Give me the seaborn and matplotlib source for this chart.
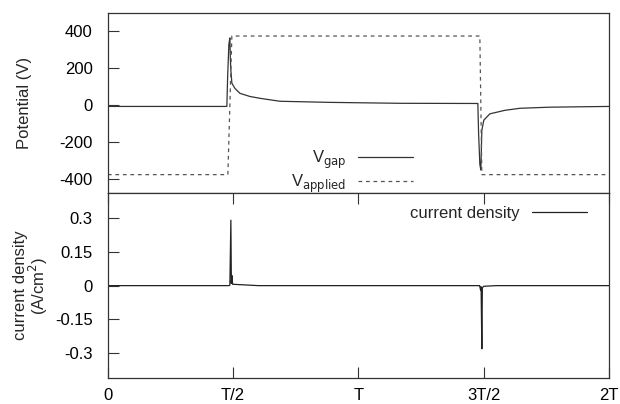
import matplotlib
matplotlib.use("Agg")
import matplotlib.pyplot as plt
import matplotlib.ticker as mticker
import pandas as pd
import seaborn as sns

# time in units of the period T
t_applied = [0.0, 0.479, 0.495, 1.485, 1.493, 2.0]
v_applied = [-375, -375, 375, 375, -375, -375]

t_gap = [0.0, 0.475, 0.478, 0.483, 0.487, 0.489, 0.491, 0.495, 0.507, 0.527,
         0.567, 0.607, 0.687, 0.886, 1.166, 1.477, 1.480, 1.485, 1.489, 1.493,
         1.501, 1.525, 1.585, 1.645, 1.764, 2.0]
v_gap = [-6, -6, 150, 330, 365, 250, 190, 120, 92, 65,
         48, 38, 22, 16, 11, 10, -150, -320, -350, -135,
         -80, -46, -27, -16, -10, -6]

t_cur = [0.0, 0.483, 0.487, 0.491, 0.493, 0.495, 0.498, 0.55, 0.6,
         1.484, 1.488, 1.490, 1.493, 1.495, 1.5, 1.55, 2.0]
j_cur = [0.0, 0.0, 0.002, 0.29, 0.01, 0.045, 0.006, 0.003, 0.0,
         0.0, -0.02, -0.005, -0.28, -0.01, -0.003, 0.0, 0.0]

x_ticks = [0, 0.5, 1, 1.5, 2]
x_labels = ["0", "T/2", "T", "3T/2", "2T"]
pot_ticks = [-400, -200, 0, 200, 400]
cur_ticks = [-0.3, -0.15, 0, 0.15, 0.3]

df_app = pd.DataFrame({"t": t_applied, "v": v_applied})
df_gap = pd.DataFrame({"t": t_gap, "v": v_gap})
df_cur = pd.DataFrame({"t": t_cur, "j": j_cur})

sns.set_style("ticks")
plt.rcParams["font.family"] = ["Liberation Sans", "DejaVu Sans"]
plt.rcParams["axes.unicode_minus"] = False
fs = 12

fig = plt.figure(figsize=(6.2, 4.04), dpi=100)
ax1 = fig.add_axes([0.174, 0.522, 0.808, 0.446])
ax2 = fig.add_axes([0.174, 0.064, 0.808, 0.458])

sns.lineplot(data=df_gap, x="t", y="v", ax=ax1, color="#333333", lw=0.9,
             label=r"V$_{\rm gap}$", estimator=None, sort=False)
sns.lineplot(data=df_app, x="t", y="v", ax=ax1, color="#555555", lw=0.9,
             label=r"V$_{\rm applied}$", estimator=None, sort=False)
ax1.lines[1].set_dashes([3, 3])

sns.lineplot(data=df_cur, x="t", y="j", ax=ax2, color="#222222", lw=0.9,
             label="current density", estimator=None, sort=False)

for ax in (ax1, ax2):
    ax.set_xlim(0, 2)
    ax.set_xlabel("")
    for s in ax.spines.values():
        s.set_visible(True)
        s.set_linewidth(0.9)
        s.set_color("#333333")
    ax.tick_params(axis="y", direction="in", length=8, width=0.8,
                   labelsize=fs, pad=11, colors="#333333", labelcolor="black")

ax1.set_ylim(-475, 500)
ax1.set_yticks(pot_ticks)
ax1.set_xticks(x_ticks)
ax1.tick_params(axis="x", bottom=False, labelbottom=False)
ax1.set_ylabel("Potential (V)", fontsize=fs)
ax1.yaxis.set_label_coords(-0.152, 0.5)

ax2.set_ylim(-0.41, 0.41)
ax2.set_yticks(cur_ticks)
ax2.yaxis.set_major_formatter(mticker.FuncFormatter(lambda v, p: "%g" % v))
ax2.set_xticks(x_ticks)
ax2.set_xticklabels(x_labels)
ax2.tick_params(axis="x", direction="in", top=True, length=8, width=0.8,
                labelsize=fs, pad=7, colors="#333333", labelcolor="black")
ax2.set_ylabel("current density\n(A/cm$^2$)", fontsize=fs, linespacing=0.95)
ax2.yaxis.set_label_coords(-0.115, 0.5)

ax1.legend(loc="lower right", bbox_to_anchor=(0.622, -0.045), frameon=False,
           markerfirst=False, fontsize=fs, handlelength=3.3,
           handletextpad=0.7, labelspacing=0.1, borderaxespad=0)
ax2.legend(loc="upper right", bbox_to_anchor=(0.969, 0.965), frameon=False,
           markerfirst=False, fontsize=fs, handlelength=3.3,
           handletextpad=0.7, borderaxespad=0)

fig.savefig("out.png", dpi=100)
